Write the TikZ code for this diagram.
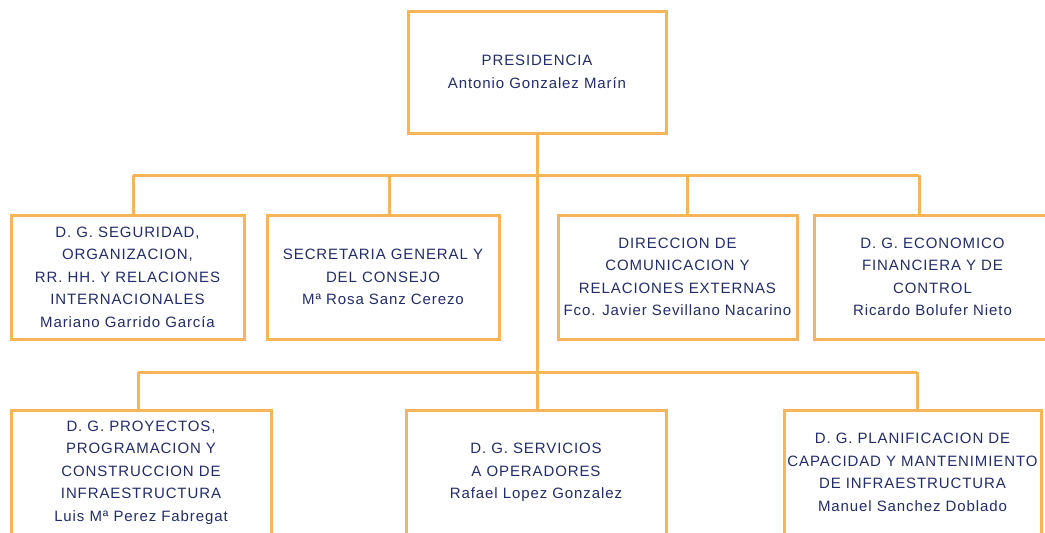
\documentclass[tikz,border=0pt]{standalone}
\usepackage{fontspec}
\usepackage{xcolor}
\usepackage{tikz}
\usetikzlibrary{calc}
\newfontfamily\orgfont{Liberation Sans}[LetterSpace=6]
\definecolor{orgline}{RGB}{245,181,88}
\definecolor{orgtext}{RGB}{34,44,106}
\tikzset{
  unit/.style={draw=orgline, line width=3pt, rectangle, inner sep=0pt,
    align=center, text=orgtext, font=\orgfont\fontsize{15}{22.5}\selectfont},
  link/.style={draw=orgline, line width=3pt}
}

\begin{document}
\begin{tikzpicture}[x=1pt, y=-1pt]
            \useasboundingbox (0,0) rectangle (1045,533);
            % presidencia
            \node[unit, minimum width=258, minimum height=122] (pres) at (537,72)
              {PRESIDENCIA\\Antonio Gonzalez Marín};
            % first row
            \node[unit, minimum width=233, minimum height=124] (seg) at (127.5,277)
              {D. G. SEGURIDAD,\\ORGANIZACION,\\RR. HH. Y RELACIONES\\INTERNACIONALES\\Mariano Garrido García};
            \node[unit, minimum width=232, minimum height=124] (sec) at (383,277)
              {SECRETARIA GENERAL Y\\DEL CONSEJO\\Mª Rosa Sanz Cerezo};
            \node[unit, minimum width=239, minimum height=124] (dir) at (677.5,277)
              {DIRECCION DE\\COMUNICACION Y\\RELACIONES EXTERNAS\\Fco. Javier Sevillano Nacarino};
            \node[unit, minimum width=237, minimum height=124] (eco) at (932.5,277)
              {D. G. ECONOMICO\\FINANCIERA Y DE\\CONTROL\\Ricardo Bolufer Nieto};
            % second row
            \node[unit, minimum width=260, minimum height=124] (pro) at (141,472.5)
              {D. G. PROYECTOS,\\PROGRAMACION Y\\CONSTRUCCION DE\\INFRAESTRUCTURA\\Luis Mª Perez Fabregat};
            \node[unit, minimum width=260, minimum height=124] (ser) at (536,472.5)
              {D. G. SERVICIOS\\A OPERADORES\\Rafael Lopez Gonzalez};
            \node[unit, minimum width=257, minimum height=124] (pla) at (912.5,472.5)
              {D. G. PLANIFICACION DE\\CAPACIDAD Y MANTENIMIENTO\\DE INFRAESTRUCTURA\\Manuel Sanchez Doblado};
            % taps on the two buses
            \coordinate (busA1) at (133,175);
            \coordinate (busA2) at (389,175);
            \coordinate (busA3) at (687,175);
            \coordinate (busA4) at (919,175);
            \coordinate (busB1) at (138,372);
            \coordinate (busB2) at (537,372);
            \coordinate (busB3) at (917,372);
            \draw[link] (pres.south) -- (pres.south |- busB2);
            \draw[link] (busA1) -- (busA4);
            \draw[link] (busB1) -- (busB3);
            \foreach \t/\n in {busA1/seg, busA2/sec, busA3/dir, busA4/eco, busB1/pro, busB2/ser, busB3/pla}
              \draw[link] (\t) -- (\t |- \n.north);
        \end{tikzpicture}
\end{document}
